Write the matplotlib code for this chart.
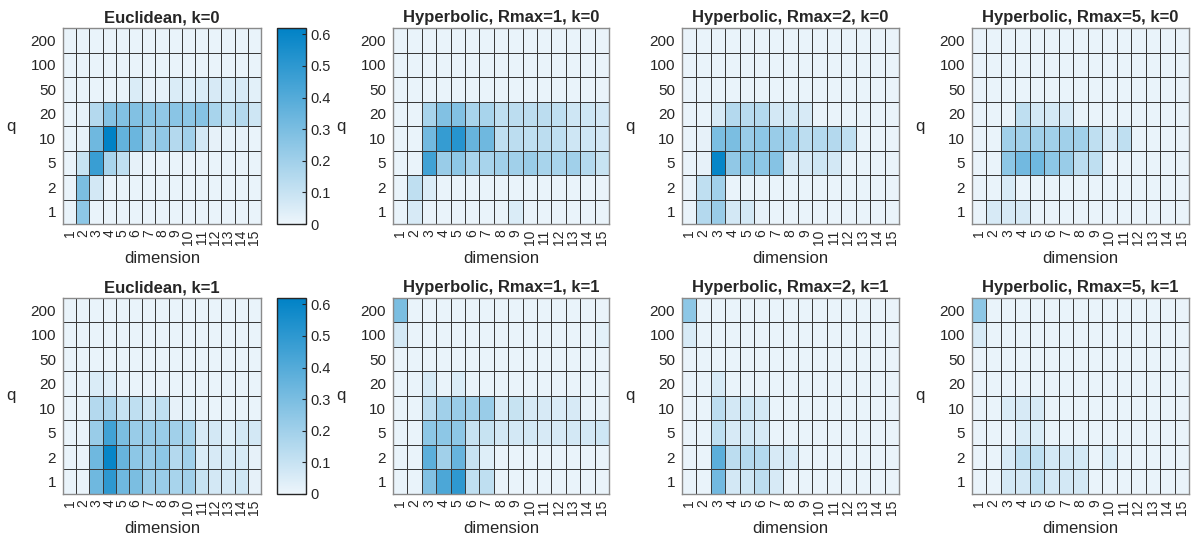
import matplotlib.pyplot as plt
import numpy as np
from matplotlib.colors import LinearSegmentedColormap

plt.rcParams['font.family'] = ['Liberation Sans', 'DejaVu Sans']

dims = list(range(1, 16))
q_labels = ['200', '100', '50', '20', '10', '5', '2', '1']   # top to bottom

# rows listed top (q=200) to bottom (q=1), columns dimension 1..15
euc_k0 = [
    [.01]*15,
    [.01]*15,
    [.01, .01, .01, .01, .01, .05, .02, .02, .05, .04, .05, .06, .05, .06, .03],
    [.01, .02, .15, .27, .28, .28, .25, .24, .26, .25, .27, .18, .12, .15, .08],
    [.01, .02, .33, .62, .36, .34, .20, .24, .15, .20, .07, .02, .02, .02, .01],
    [.01, .10, .47, .18, .12, .02, .01, .01, .01, .01, .01, .01, .01, .01, .01],
    [.01, .30, .07, .01, .01, .01, .01, .01, .01, .01, .01, .01, .01, .01, .01],
    [.01, .25, .01, .01, .01, .01, .01, .01, .01, .01, .01, .01, .01, .01, .01],
]
hyp1_k0 = [
    [.01]*15,
    [.01]*15,
    [.01]*15,
    [.01, .01, .18, .28, .28, .18, .18, .12, .13, .13, .13, .12, .08, .08, .07],
    [.01, .01, .32, .48, .52, .35, .33, .12, .13, .12, .13, .12, .08, .08, .07],
    [.01, .01, .45, .22, .25, .18, .18, .20, .20, .22, .18, .18, .20, .15, .10],
    [.01, .12, .05, .01, .01, .01, .01, .01, .01, .01, .01, .01, .01, .01, .01],
    [.01, .06, .01, .01, .01, .01, .01, .01, .05, .01, .01, .01, .01, .01, .01],
]
hyp2_k0 = [
    [.01]*15,
    [.01]*15,
    [.01]*15,
    [.01, .01, .06, .15, .14, .15, .07, .07, .06, .01, .01, .01, .01, .01, .01],
    [.01, .02, .30, .30, .22, .25, .22, .20, .13, .15, .15, .12, .01, .01, .01],
    [.01, .02, .60, .24, .27, .25, .27, .06, .06, .08, .07, .01, .01, .01, .01],
    [.01, .12, .20, .01, .01, .01, .01, .01, .01, .01, .01, .01, .01, .01, .01],
    [.01, .15, .22, .07, .07, .02, .01, .01, .01, .01, .01, .01, .01, .01, .01],
]
hyp5_k0 = [
    [.01]*15,
    [.01]*15,
    [.01]*15,
    [.01, .01, .01, .12, .07, .07, .06, .01, .01, .01, .01, .01, .01, .01, .01],
    [.01, .01, .20, .20, .20, .20, .20, .20, .12, .06, .12, .01, .01, .01, .01],
    [.01, .01, .25, .32, .33, .25, .22, .13, .12, .01, .01, .01, .01, .01, .01],
    [.01, .01, .06, .01, .01, .01, .01, .01, .01, .01, .01, .01, .01, .01, .01],
    [.01, .06, .06, .06, .01, .01, .01, .01, .01, .01, .01, .01, .01, .01, .01],
]
euc_k1 = [
    [.01]*15,
    [.01]*15,
    [.01]*15,
    [.01, .01, .05, .04, .01, .01, .01, .01, .01, .01, .01, .01, .01, .01, .01],
    [.01, .01, .15, .17, .10, .12, .08, .12, .02, .03, .01, .01, .01, .01, .01],
    [.01, .01, .22, .45, .30, .22, .22, .22, .20, .18, .06, .07, .04, .07, .07],
    [.01, .01, .33, .60, .35, .25, .22, .25, .15, .20, .05, .06, .06, .06, .02],
    [.01, .01, .33, .50, .33, .30, .22, .22, .18, .20, .10, .07, .07, .08, .02],
]
hyp1_k1 = [
    [.30, .01, .01, .01, .01, .01, .01, .01, .01, .01, .01, .01, .01, .01, .01],
    [.07, .01, .01, .01, .01, .01, .01, .01, .01, .01, .01, .01, .01, .01, .03],
    [.01]*15,
    [.01, .01, .06, .01, .05, .01, .01, .01, .01, .01, .01, .01, .01, .01, .01],
    [.01, .01, .13, .20, .22, .20, .22, .06, .10, .06, .06, .05, .06, .02, .02],
    [.01, .01, .25, .25, .25, .10, .10, .07, .07, .07, .06, .06, .07, .07, .08],
    [.01, .01, .38, .20, .35, .10, .04, .01, .01, .01, .01, .01, .01, .01, .01],
    [.01, .01, .28, .42, .50, .12, .12, .01, .01, .01, .01, .01, .01, .01, .01],
]
hyp2_k1 = [
    [.25, .01, .01, .01, .01, .01, .01, .01, .01, .01, .01, .01, .01, .01, .01],
    [.06, .01, .01, .01, .01, .01, .01, .01, .01, .01, .01, .01, .01, .01, .01],
    [.01]*15,
    [.01, .01, .06, .01, .01, .01, .01, .01, .01, .01, .01, .01, .01, .01, .01],
    [.01, .01, .13, .07, .08, .07, .01, .01, .01, .01, .01, .01, .01, .01, .01],
    [.01, .01, .12, .06, .07, .06, .01, .01, .01, .01, .01, .01, .01, .01, .01],
    [.01, .01, .38, .13, .15, .15, .06, .06, .01, .01, .01, .01, .01, .01, .01],
    [.01, .01, .32, .07, .08, .13, .06, .01, .01, .01, .01, .01, .01, .01, .01],
]
hyp5_k1 = [
    [.25, .01, .01, .01, .01, .01, .01, .01, .01, .01, .01, .01, .01, .01, .01],
    [.06, .01, .01, .01, .01, .01, .01, .01, .01, .01, .01, .01, .01, .01, .01],
    [.01]*15,
    [.01]*15,
    [.01, .01, .05, .06, .06, .01, .01, .01, .01, .01, .01, .01, .01, .01, .01],
    [.01, .01, .01, .05, .05, .01, .01, .01, .01, .01, .01, .01, .01, .01, .01],
    [.01, .01, .06, .12, .12, .07, .07, .07, .01, .05, .01, .01, .01, .01, .01],
    [.01, .01, .07, .07, .12, .07, .07, .07, .01, .01, .01, .01, .01, .01, .01],
]

panels = [
    ('Euclidean, k=0', euc_k0), ('Hyperbolic, Rmax=1, k=0', hyp1_k0),
    ('Hyperbolic, Rmax=2, k=0', hyp2_k0), ('Hyperbolic, Rmax=5, k=0', hyp5_k0),
    ('Euclidean, k=1', euc_k1), ('Hyperbolic, Rmax=1, k=1', hyp1_k1),
    ('Hyperbolic, Rmax=2, k=1', hyp2_k1), ('Hyperbolic, Rmax=5, k=1', hyp5_k1),
]

cmap = LinearSegmentedColormap.from_list('blu', ['#edf5fb', '#0082c6'])
vmax = 0.62

fig = plt.figure(figsize=(11.91, 5.42), dpi=100)

# axes rectangles (left, width) per column, (bottom) per row
cols = [(0.0529, 0.1662), (0.3300, 0.1814), (0.5726, 0.1822), (0.8161, 0.1822)]
rows = [0.5867, 0.0886]
h = 0.3616

for i, (title, data) in enumerate(panels):
    r, c = divmod(i, 4)
    ax = fig.add_axes([cols[c][0], rows[r], cols[c][1], h])
    arr = np.array(data)
    mesh = ax.pcolormesh(np.arange(16) + 0.5, np.arange(9) - 0.5, arr,
                         cmap=cmap, vmin=0, vmax=vmax,
                         edgecolors='#3a3a3a', linewidth=0.45)
    ax.set_xlim(0.5, 15.5)
    ax.set_ylim(7.5, -0.5)
    ax.set_xticks(dims)
    ax.set_xticklabels([str(d) for d in dims], rotation=90, va='top')
    ax.set_yticks(range(8))
    ax.set_yticklabels(q_labels)
    ax.tick_params(axis='y', length=0, labelsize=11, colors='#262626', pad=5)
    ax.tick_params(axis='x', length=0, labelsize=10, colors='#262626', pad=4)
    for s in ax.spines.values():
        s.set_color('#8a8a8a')
        s.set_linewidth(1)
    ax.set_title(title, fontsize=12, fontweight='bold', color='#262626', pad=4)
    ax.set_xlabel('dimension', fontsize=12, color='#262626', labelpad=4)
    ax.set_ylabel('q', fontsize=12, color='#262626', rotation=0, labelpad=14, va='center')

    if c == 0:
        cax = fig.add_axes([0.2326, rows[r], 0.0243, h])
        cb = fig.colorbar(mesh, cax=cax, ticks=np.arange(0, 0.61, 0.1))
        cb.ax.set_yticklabels(['0', '0.1', '0.2', '0.3', '0.4', '0.5', '0.6'])
        cb.ax.tick_params(labelsize=10.5, direction='in', length=3, colors='#262626')
        cb.outline.set_edgecolor('#262626')
        cb.outline.set_linewidth(1)

fig.savefig('out.png', dpi=100)
